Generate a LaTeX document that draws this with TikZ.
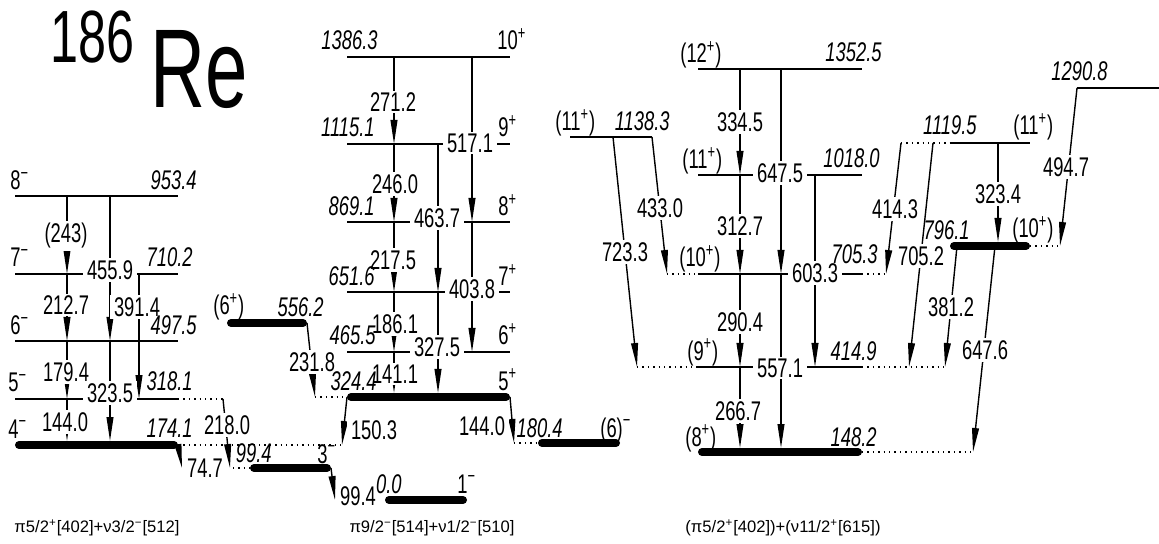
\documentclass[tikz,border=0pt]{standalone}
\usepackage{fontspec}
\setmainfont[FakeStretch=0.68]{Liberation Sans}
\newfontfamily\cfgfont{Liberation Sans}
\usetikzlibrary{arrows.meta}
\newcommand\lbf{\fontsize{13.5}{15}\selectfont}
\newcommand\smf{\cfgfont\fontsize{8.3}{10}\selectfont}
\newcommand\jpos{\textsuperscript{+}}
\newcommand\jneg{\textsuperscript{−}}

\begin{document}
\begin{tikzpicture}[x=0.5pt,y=-0.5pt,
    lvl/.style={line width=0.7pt},
    gs/.style={line width=4pt,line cap=round},
    ext/.style={line width=0.7pt,dotted},
    gam/.style={line width=0.7pt,-{Triangle[length=12pt,width=3.4pt]}},
    eg/.style={fill=white,inner xsep=2pt,inner ysep=1pt,font=\lbf},
    en/.style={anchor=base east,inner sep=0pt,font=\lbf\itshape},
    jp/.style={anchor=base west,inner sep=0pt,font=\lbf}]
    \useasboundingbox (0,0) rectangle (1159,544);
    % title
    \node[anchor=base west,inner sep=0pt,font=\fontsize{37}{40}\selectfont] at (50,63) {186};
    \node[anchor=base west,inner sep=0pt,font=\fontsize{56}{60}\selectfont] at (150,108) {Re};
    % levels
    \foreach \xa/\xb/\y in {15/178/196,15/178/274,15/178/341,15/178/399,
        347/510/57,347/510/144,347/510/222,347/510/292,347/510/352,
        698/862/69,698/862/175,698/862/274,698/862/367,
        570/652/137,950/1030/143,1077/1159/88}
        \draw[lvl] (\xa,\y) -- (\xb,\y);
    \foreach \xa/\xb/\y in {19/174/445,231/303/323,351/506/397,254/327/468,
        389/463/500,542/616/443,702/858/452,954/1026/246}
        \draw[gs] (\xa,\y) -- (\xb,\y);
    \foreach \xa/\xb/\y in {178/223/399,178/342/445,233/250/468,315/347/397,514/538/443,
        667/698/274,862/886/274,637/698/367,862/946/367,862/973/452,901/950/143,1030/1060/246}
        \draw[ext] (\xa,\y) -- (\xb,\y);
    % gammas
    \foreach \xa/\ya/\xb/\yb in {67/196/67/274,67/274/67/341,67/341/67/399,67/399/67/441,
        110/196/110/341,139/274/139/399,110/341/110/441,223/399/230/468,178/445/182/468,331/468/335/500,
        394/57/394/144,394/144/394/222,394/222/394/292,394/292/394/352,394/352/394/393,
        472/57/472/222,472/222/472/352,438/144/438/292,438/292/438/393,
        307/323/315/397,347/397/342/445,510/397/514/443,
        740/69/740/175,740/175/740/274,740/274/740/367,740/367/740/448,
        781/69/781/274,781/274/781/448,815/175/815/367,652/137/667/274,613/137/637/367,
        901/143/886/274,933/143/909/367,998/143/998/242,1077/88/1060/246,957/246/945/367,995/246/973/452}
        \draw[gam] (\xa,\ya) -- (\xb,\yb);
    \foreach \x/\y/\e in {66/236/(243),66/305/212.7,66/372/179.4,65/422/144.0,110/270/455.9,
        137/307/391.4,110/393/323.5,227/425/218.0,205/468/74.7,
        393/102/271.2,470/143/517.1,395/184/246.0,437/218/463.7,393/260/217.5,472/289/403.8,
        395/324/186.1,437/347/327.5,395/374/141.1,312/362/231.8,374/430/150.3,482/426/144.0,358/496/99.4,
        740/122/334.5,780/173/647.5,740/226/312.7,815/273/603.3,740/322/290.4,780/368/557.1,
        738/411/266.7,660/208/433.0,625/252/723.3,895/209/414.3,921/256/705.2,998/194/323.4,
        1066/167/494.7,951/307/381.2,985/350/647.6}
        \node[eg] at (\x,\y) {\e};
    % energies
    \foreach \x/\y/\e in {197/190/953.4,193/267/710.2,197/335/497.5,193/390/318.1,193/437/174.1,272/462/99.4,
        378/50/1386.3,375/137/1115.1,375/216/869.1,375/286/651.6,376/345/465.5,377/390/324.4,
        324/317/556.2,563/437/180.4,402/493/0.0,
        882/62/1352.5,670/131/1138.3,880/168/1018.0,878/264/705.3,877/361/414.9,877/446/148.2,
        970/240/796.1,977/135/1119.5,1108/81/1290.8}
        \node[en] at (\x,\y) {\e};
    % spins
    \foreach \x/\y/\j in {10/190/{8\jneg},10/267/{7\jneg},10/335/{6\jneg},8/392/{5\jneg},8/438/{4\jneg},317/463/{3\jneg},
        497/50/{10\jpos},498/137/{9\jpos},498/216/{8\jpos},498/286/{7\jpos},498/345/{6\jpos},498/390/{5\jpos},
        213/315/{(6\jpos)},600/437/{(6)\jneg},457/493/{1\jneg},
        680/63/{(12\jpos)},555/131/{(11\jpos)},682/169/{(11\jpos)},679/267/{(10\jpos)},687/360/{(9\jpos)},
        685/446/{(8\jpos)},1012/238/{(10\jpos)},1013/135/{(11\jpos)}}
        \node[jp] at (\x,\y) {\j};
    % configurations
    \node[font=\smf] at (97,528) {π5/2\jpos[402]+ν3/2\jneg[512]};
    \node[font=\smf] at (432,528) {π9/2\jneg[514]+ν1/2\jneg[510]};
    \node[font=\smf] at (783,528) {(π5/2\jpos[402])+(ν11/2\jpos[615])};
\end{tikzpicture}
\end{document}
